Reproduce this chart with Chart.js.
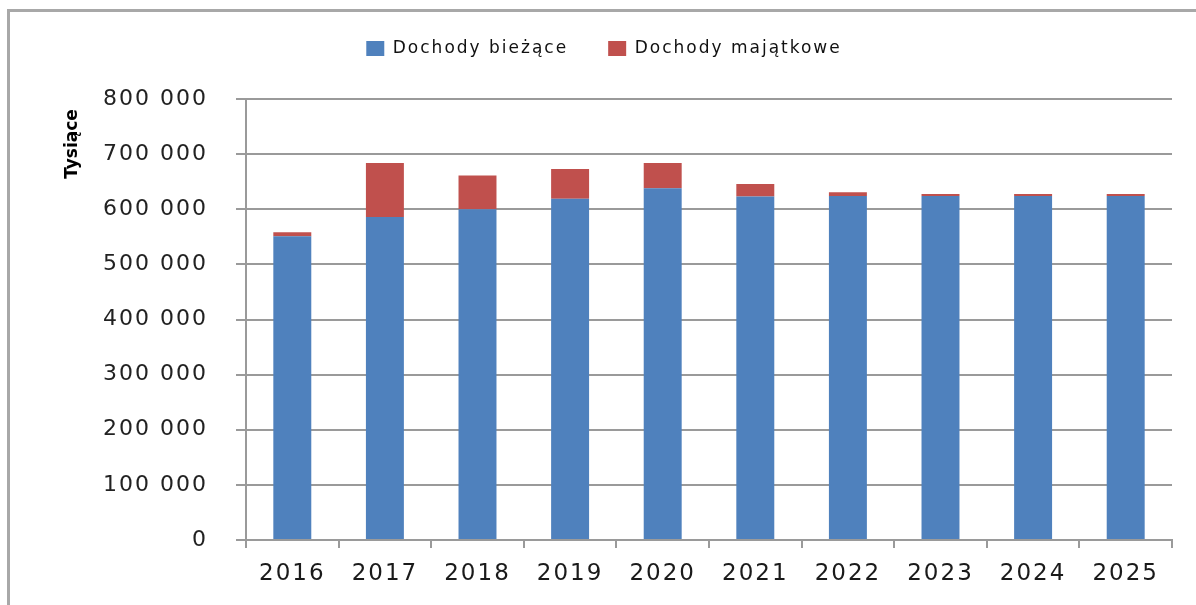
<!DOCTYPE html>
<html>
<head>
<meta charset="utf-8">
<script src="https://cdn.jsdelivr.net/npm/chart.js@4/dist/chart.umd.min.js"></script>
<style>
  html, body { margin: 0; padding: 0; background: #fff; }
  #wrap { position: relative; width: 1196px; height: 605px; overflow: hidden; }
  #frame {
    position: absolute; left: 7px; top: 9px; width: 1300px; height: 700px;
    border-top: 3px solid #a8a8a8; border-left: 3px solid #a8a8a8;
  }
  #chart { position: absolute; left: 0; top: 0; }
</style>
</head>
<body>
<div id="wrap">
  <div id="frame"></div>
  <canvas id="chart" width="1196" height="605"></canvas>
</div>
<script>
// values in thousands of PLN
const years = ['2016', '2017', '2018', '2019', '2020', '2021', '2022', '2023', '2024', '2025'];
const dochodyBiezace = [551000, 586000, 600000, 619000, 638000, 623000, 624000, 624000, 624000, 624000];
const dochodyMajatkowe = [7500, 98000, 61000, 54000, 46000, 23000, 7000, 3500, 3500, 3500];
const yTitle = 'Tysiące';

const fmt = v => String(v).replace(/\B(?=(\d{3})+(?!\d))/g, ' ');

// the original text is set wide, so space the letters out a bit
const wideText = {
    id: 'wideText',
    beforeUpdate(chart) { chart.ctx.letterSpacing = '2px'; },
    beforeLayout(chart) {
        chart.ctx.letterSpacing = '2px';
        // give the legend extra room below it so the plot starts lower
        const lg = chart.legend;
        if (lg && !lg._extra) {
            const fit = lg.fit.bind(lg);
            lg.fit = function () { fit(); this.height += 32; };
            lg._extra = true;
        }
    },
    beforeDraw(chart) { chart.ctx.letterSpacing = '2px'; }
};

// axis title sits high up next to the top ticks, like in the original
const yTitlePlugin = {
    id: 'yTitle',
    afterDraw(chart) {
        const ctx = chart.ctx;
        ctx.save();
        ctx.letterSpacing = '0px';
        ctx.translate(73, 144);
        ctx.rotate(-Math.PI / 2);
        ctx.font = 'bold 17px "DejaVu Sans"';
        ctx.fillStyle = '#000';
        ctx.textAlign = 'center';
        ctx.textBaseline = 'middle';
        ctx.fillText(yTitle, 0, 0);
        ctx.restore();
    }
};

new Chart(document.getElementById('chart').getContext('2d'), {
    type: 'bar',
    data: {
        labels: years,
        datasets: [
            {label: 'Dochody bieżące', data: dochodyBiezace, backgroundColor: '#4F81BD'},
            {label: 'Dochody majątkowe', data: dochodyMajatkowe, backgroundColor: '#C0504D'}
        ]
    },
    options: {
        responsive: false,
        animation: false,
        layout: {padding: {left: 36, right: 24, top: 0, bottom: 0}},
        datasets: {bar: {barPercentage: 0.41, categoryPercentage: 1}},
        plugins: {
            tooltip: {enabled: false},
            legend: {
                position: 'top',
                labels: {
                    boxWidth: 18, boxHeight: 15, padding: 40,
                    color: '#111',
                    font: {family: '"DejaVu Sans"', size: 17}
                }
            }
        },
        scales: {
            x: {
                stacked: true,
                afterFit: s => { s.height = 65; },
                grid: {offset: true, drawOnChartArea: false, tickLength: 8, color: '#9a9a9a', lineWidth: 2},
                border: {color: '#9a9a9a', width: 2},
                ticks: {color: '#1a1a1a', padding: 12, font: {family: '"DejaVu Sans"', size: 23}}
            },
            y: {
                stacked: true,
                min: 0, max: 800000,
                afterFit: s => { s.width = 210; },
                grid: {color: '#9a9a9a', lineWidth: 2, tickLength: 10},
                border: {color: '#9a9a9a', width: 2},
                ticks: {
                    stepSize: 100000, color: '#222', padding: 28,
                    font: {family: '"DejaVu Sans"', size: 22},
                    callback: v => fmt(v)
                }
            }
        }
    },
    plugins: [wideText, yTitlePlugin]
});
</script>
</body>
</html>
